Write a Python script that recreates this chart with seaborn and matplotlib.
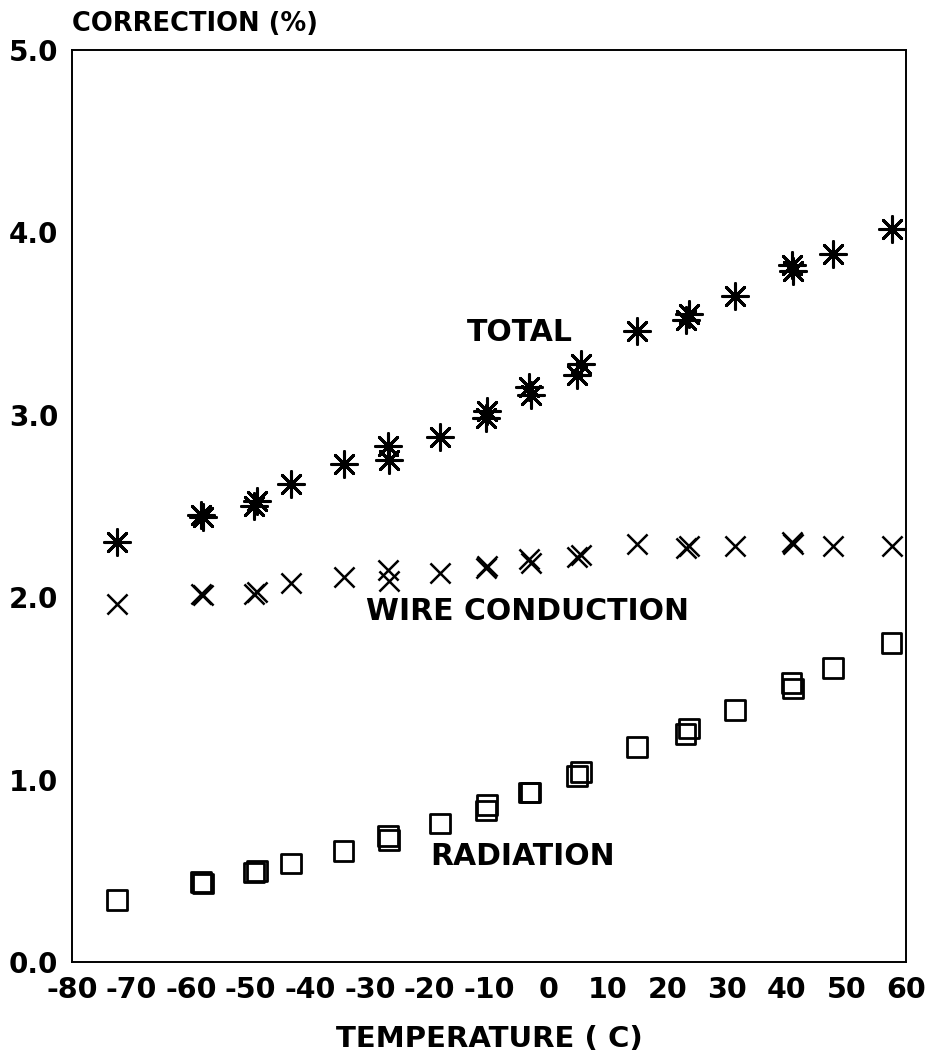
import matplotlib
matplotlib.use("Agg")
import matplotlib.pyplot as plt
import numpy as np
import pandas as pd
import seaborn as sns

# First set of measurements: temperature (C) and corrections (%)
temp_a = [-72.5, -58.0, -49.5, -43.2, -34.4, -26.8, -18.2, -10.5, -3.0, 4.8,
          14.9, 23.0, 31.3, 41.0, 47.8, 57.6]
total_a = [2.30, 2.44, 2.50, 2.62, 2.73, 2.75, 2.88, 2.98, 3.11, 3.22,
           3.46, 3.52, 3.65, 3.79, 3.88, 4.02]
wire_a = [1.96, 2.01, 2.02, 2.08, 2.11, 2.09, 2.13, 2.16, 2.19, 2.22,
          2.29, 2.27, 2.28, 2.29, 2.28, 2.28]
radiation_a = [0.34, 0.43, 0.49, 0.54, 0.61, 0.67, 0.76, 0.83, 0.93, 1.02,
               1.18, 1.25, 1.38, 1.50, 1.61, 1.75]

# Repeat measurements at some of the temperatures
temp_b = [-58.3, -49.0, -27.0, -10.3, -3.3, 5.5, 23.6, 40.8]
total_b = [2.45, 2.53, 2.83, 3.02, 3.15, 3.28, 3.55, 3.82]
wire_b = [2.02, 2.03, 2.15, 2.17, 2.21, 2.23, 2.28, 2.30]
radiation_b = [0.44, 0.50, 0.69, 0.86, 0.93, 1.04, 1.28, 1.53]

x_ticks = [-80, -70, -60, -50, -40, -30, -20, -10, 0, 10, 20, 30, 40, 50, 60]
y_ticks = [0.0, 1.0, 2.0, 3.0, 4.0, 5.0]

series_names = ["TOTAL", "WIRE CONDUCTION", "RADIATION"]


def long_table():
    frames = []
    for temps, tot, wire, rad in [(temp_a, total_a, wire_a, radiation_a),
                                  (temp_b, total_b, wire_b, radiation_b)]:
        for name, vals in zip(series_names, [tot, wire, rad]):
            frames.append(pd.DataFrame({"temperature": temps,
                                        "correction": vals,
                                        "series": name}))
    return pd.concat(frames, ignore_index=True)


df = long_table()

sns.set_style("white")
plt.rcParams["font.family"] = ["DejaVu Sans"]
plt.rcParams["font.weight"] = "bold"
plt.rcParams["axes.unicode_minus"] = False
plt.rcParams["text.color"] = "black"
plt.rcParams["axes.labelcolor"] = "black"

fig = plt.figure(figsize=(9.32, 10.55), dpi=100)
ax = fig.add_axes([0.0773, 0.0882, 0.8947, 0.8644])

marker_styles = {
    "TOTAL": dict(marker=(8, 2, 0), s=340, color="black", linewidth=2.2),
    "WIRE CONDUCTION": dict(marker="x", s=210, color="black", linewidth=1.8),
    "RADIATION": dict(marker="s", s=200, facecolor="none",
                      edgecolor="black", linewidth=2.0),
}

for name in series_names:
    sub = df[df["series"] == name]
    sns.scatterplot(data=sub, x="temperature", y="correction", ax=ax,
                    legend=False, zorder=3, **marker_styles[name])

# Series labels placed beside their point groups
label_pos = {"TOTAL": (-4.8, 3.45),
             "WIRE CONDUCTION": (-3.5, 1.92),
             "RADIATION": (-4.3, 0.58)}
for name, (lx, ly) in label_pos.items():
    ax.text(lx, ly, name, ha="center", va="center", fontsize=21.5,
            fontweight="bold", color="black")

ax.set_xlim(-80, 60)
ax.set_ylim(0, 5)
ax.set_xticks(x_ticks)
ax.set_xticklabels([str(t) for t in x_ticks])
ax.set_yticks(y_ticks)
ax.set_yticklabels([f"{t:.1f}" for t in y_ticks])

ax.tick_params(axis="both", direction="in", length=9, width=1.3,
               colors="black")
ax.tick_params(axis="x", pad=10, labelsize=20.5)
ax.tick_params(axis="y", pad=10, labelsize=20)
for lab in ax.get_xticklabels() + ax.get_yticklabels():
    lab.set_fontweight("bold")

for sp in ax.spines.values():
    sp.set_visible(True)
    sp.set_color("black")
    sp.set_linewidth(1.4)

ax.set_xlabel("TEMPERATURE ( C)", fontsize=21, fontweight="bold",
              labelpad=15, color="black")
ax.set_ylabel("")
ax.annotate("CORRECTION (%)", xy=(0, 1), xycoords="axes fraction",
            xytext=(0, 19), textcoords="offset points", ha="left",
            va="center", fontsize=18.5, fontweight="bold", color="black")

fig.savefig("out.png", dpi=100, facecolor="white")
